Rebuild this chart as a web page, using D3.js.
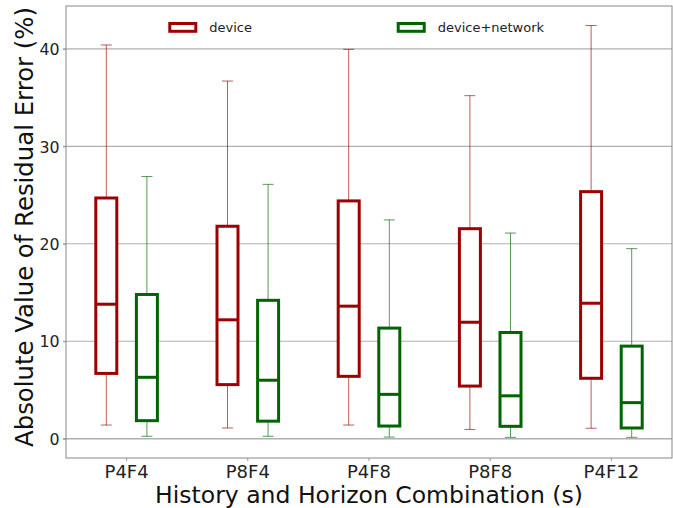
<!DOCTYPE html>
<html>
<head>
<meta charset="utf-8">
<script src="https://cdn.jsdelivr.net/npm/d3@7/dist/d3.min.js"></script>
<style>
  html, body { margin: 0; padding: 0; background: #fff; }
  svg { display: block; }
  svg text { font-family: "DejaVu Sans", sans-serif; }
</style>
</head>
<body>
<svg id="chart" width="673" height="508"></svg>
<script>
// Residual error summaries (percent) per history/horizon combination
const categories = ["P4F4", "P8F4", "P4F8", "P8F8", "P4F12"];
const seriesNames = ["device", "device+network"];
const seriesColors = ["#9e0000", "#006400"];

// [whisker low, Q1, median, Q3, whisker high]
const deviceStats = [
  [1.4, 6.7, 13.8, 24.7, 40.4],
  [1.1, 5.55, 12.2, 21.8, 36.7],
  [1.4, 6.4, 13.6, 24.4, 39.95],
  [0.95, 5.4, 11.95, 21.55, 35.2],
  [1.07, 6.2, 13.9, 25.35, 42.4]
];
const networkStats = [
  [0.25, 1.85, 6.3, 14.8, 26.9],
  [0.25, 1.8, 6.0, 14.2, 26.1],
  [0.17, 1.3, 4.55, 11.35, 22.45],
  [0.14, 1.27, 4.4, 10.9, 21.1],
  [0.14, 1.1, 3.7, 9.5, 19.5]
];
const yTicks = [0, 10, 20, 30, 40];

const series = [deviceStats, networkStats];

const svg = d3.select("#chart");
const margin = { left: 66, right: 1, top: 6, bottom: 50 };
const W = 673, H = 508;
const x0 = margin.left, x1 = W - margin.right;
const y0 = H - margin.bottom, y1 = margin.top;

const x = d3.scaleBand().domain(categories).range([x0, x1]);
const y = d3.scaleLinear().domain([-1.98, 44.4]).range([y0, y1]);

const boxW = 21, offset = 20.3, capW = 11;

// scale a text's font size so its rendered length equals the given width
function fitWidth(sel, width) {
  sel.each(function () {
    const base = parseFloat(this.getAttribute("font-size"));
    const len = this.getComputedTextLength();
    if (len > 0) this.setAttribute("font-size", (base * width / len).toFixed(2));
  });
}

// horizontal grid lines
svg.append("g").selectAll("line").data(yTicks).join("line")
  .attr("x1", x0 - 3).attr("x2", x1)
  .attr("y1", d => y(d)).attr("y2", d => y(d))
  .attr("stroke", "#b0b0b0")
  .attr("stroke-width", d => d === 0 ? 1.6 : 1.1);

// axes
const yAxis = d3.axisLeft(y).tickValues(yTicks).tickSize(3).tickPadding(3.5);
const gy = svg.append("g").attr("transform", `translate(${x0},0)`).call(yAxis)
  .attr("font-family", null);
gy.select(".domain").remove();
gy.selectAll("line").attr("stroke", "#999");
gy.selectAll("text").attr("font-size", 15.8).attr("fill", "#222").attr("dy", "0.36em");

const xAxis = d3.axisBottom(x).tickSize(3).tickPadding(5);
const gx = svg.append("g").attr("transform", `translate(0,${y0})`).call(xAxis)
  .attr("font-family", null);
gx.select(".domain").remove();
gx.selectAll("line").attr("stroke", "#999");
gx.selectAll("text").attr("font-size", 18).attr("fill", "#222")
  .attr("y", 19.5).attr("dy", 0);

// frame
svg.append("rect")
  .attr("x", x0).attr("y", y1).attr("width", x1 - x0).attr("height", y0 - y1)
  .attr("fill", "none").attr("stroke", "#888").attr("stroke-width", 1);

// box plots
series.forEach((stats, si) => {
  const color = seriesColors[si];
  const g = svg.append("g");
  const cx = (i) => x(categories[i]) + x.bandwidth() / 2 + (si === 0 ? -offset : offset);
  const items = g.selectAll("g.box").data(stats).join("g").attr("class", "box");

  // whiskers
  items.append("line")
    .attr("x1", (d, i) => cx(i)).attr("x2", (d, i) => cx(i))
    .attr("y1", d => y(d[3])).attr("y2", d => y(d[4]))
    .attr("stroke", color).attr("stroke-opacity", 0.65).attr("stroke-width", 1);
  items.append("line")
    .attr("x1", (d, i) => cx(i)).attr("x2", (d, i) => cx(i))
    .attr("y1", d => y(d[1])).attr("y2", d => y(d[0]))
    .attr("stroke", color).attr("stroke-opacity", 0.65).attr("stroke-width", 1);
  // caps
  [0, 4].forEach(k => {
    items.append("line")
      .attr("x1", (d, i) => cx(i) - capW / 2).attr("x2", (d, i) => cx(i) + capW / 2)
      .attr("y1", d => y(d[k])).attr("y2", d => y(d[k]))
      .attr("stroke", color).attr("stroke-opacity", 0.65).attr("stroke-width", 1);
  });
  // box
  items.append("rect")
    .attr("x", (d, i) => cx(i) - boxW / 2).attr("width", boxW)
    .attr("y", d => y(d[3])).attr("height", d => y(d[1]) - y(d[3]))
    .attr("fill", "#fff").attr("stroke", color).attr("stroke-width", 3);
  // median
  items.append("line")
    .attr("x1", (d, i) => cx(i) - boxW / 2).attr("x2", (d, i) => cx(i) + boxW / 2)
    .attr("y1", d => y(d[2])).attr("y2", d => y(d[2]))
    .attr("stroke", color).attr("stroke-width", 3);
});

// legend
const legendX = [169.8, 398.2];
seriesNames.forEach((name, i) => {
  svg.append("rect")
    .attr("x", legendX[i]).attr("y", 23.5).attr("width", 26).attr("height", 7.8)
    .attr("fill", "#fff").attr("stroke", seriesColors[i]).attr("stroke-width", 3);
  svg.append("text")
    .attr("x", legendX[i] + 39.5).attr("y", 32)
    .attr("font-size", 13).attr("fill", "#222")
    .text(name);
});

// axis titles
const xTitle = svg.append("text")
  .attr("x", (x0 + x1) / 2).attr("y", 502.5)
  .attr("text-anchor", "middle").attr("font-size", 22).attr("fill", "#111")
  .text("History and Horizon Combination (s)");
fitWidth(xTitle, 428);

const yTitle = svg.append("text")
  .attr("transform", `translate(32.5,227) rotate(-90)`)
  .attr("text-anchor", "middle").attr("font-size", 22).attr("fill", "#111")
  .text("Absolute Value of Residual Error (%)");
fitWidth(yTitle, 440);
</script>
</body>
</html>
